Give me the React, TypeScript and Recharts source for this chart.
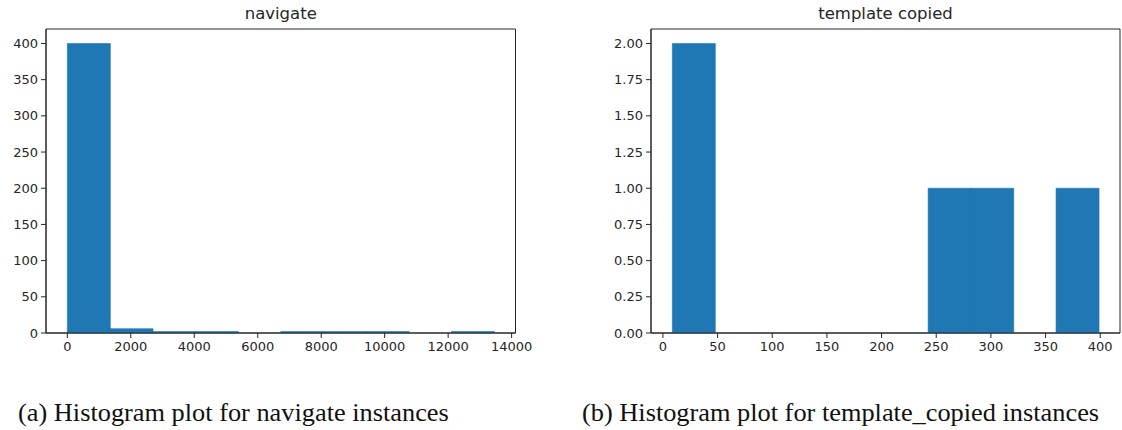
import React from 'react';
import { ComposedChart, Bar, XAxis, YAxis, ReferenceArea } from 'recharts';

// Histogram of navigate durations: 10 bins
const navEdges = [0, 1345, 2690, 4035, 5380, 6725, 8070, 9415, 10760, 12105, 13450];
const navCounts = [400, 6, 2, 2, 0, 2, 2, 2, 0, 2];
const navXTicks = [0, 2000, 4000, 6000, 8000, 10000, 12000, 14000];
const navYTicks = [0, 50, 100, 150, 200, 250, 300, 350, 400];

// Histogram of template copied values: 10 bins
const tplEdges = [8.6, 47.6, 86.6, 125.6, 164.6, 203.6, 242.6, 281.6, 320.6, 359.6, 398.6];
const tplCounts = [2, 0, 0, 0, 0, 0, 1, 1, 0, 1];
const tplXTicks = [0, 50, 100, 150, 200, 250, 300, 350, 400];
const tplYTicks = [0, 0.25, 0.5, 0.75, 1.0, 1.25, 1.5, 1.75, 2.0];

const BLUE = '#1f77b4';
const AXIS = '#262626';
const TICK_FONT = { fontFamily: 'DejaVu Sans', fontSize: 13, fill: '#262626' };

type Bin = { mid: number; x0: number; x1: number; count: number };

function toBins(edges: number[], counts: number[]): Bin[] {
  return counts.map((c, i) => ({
    mid: (edges[i] + edges[i + 1]) / 2,
    x0: edges[i],
    x1: edges[i + 1],
    count: c,
  }));
}

// x range padded by 5% of the data span on each side
function padded(edges: number[]): [number, number] {
  const lo = edges[0];
  const hi = edges[edges.length - 1];
  const m = (hi - lo) * 0.05;
  return [lo - m, hi + m];
}

type HistProps = {
  title: string;
  bins: Bin[];
  xDomain: [number, number];
  yDomain: [number, number];
  xTicks: number[];
  yTicks: number[];
  yFmt: (v: number) => string;
  width: number;
  height: number;
  yAxisWidth: number;
  marginRight: number;
};

function Histogram(p: HistProps) {
  const top = 29;
  const plotW = p.width - p.yAxisWidth - p.marginRight;
  return (
    <div style={{ position: 'relative', width: p.width, height: p.height }}>
      <div
        style={{
          position: 'absolute',
          left: p.yAxisWidth,
          width: plotW,
          top: 1,
          textAlign: 'center',
          fontFamily: 'DejaVu Sans',
          fontSize: 16.5,
          color: '#262626',
          lineHeight: '26px',
        }}
      >
        {p.title}
      </div>
      <ComposedChart
        width={p.width}
        height={p.height}
        data={p.bins}
        margin={{ top, right: p.marginRight, bottom: 12, left: 0 }}
        barCategoryGap={0}
        barGap={0}
      >
        <XAxis
          dataKey="mid"
          type="number"
          domain={p.xDomain}
          ticks={p.xTicks}
          allowDataOverflow
          interval={0}
          tick={TICK_FONT}
          tickSize={5}
          tickMargin={4}
          stroke={AXIS}
          height={25}
        />
        <YAxis
          type="number"
          domain={p.yDomain}
          ticks={p.yTicks}
          interval={0}
          allowDataOverflow
          tick={TICK_FONT}
          tickFormatter={p.yFmt}
          tickSize={5}
          tickMargin={3}
          stroke={AXIS}
          width={p.yAxisWidth}
        />
        <Bar
          dataKey="count"
          fill={BLUE}
          stroke={BLUE}
          strokeWidth={0.6}
          isAnimationActive={false}
        />
        {/* axes frame */}
        <ReferenceArea
          x1={p.xDomain[0]}
          x2={p.xDomain[1]}
          y1={p.yDomain[0]}
          y2={p.yDomain[1]}
          fill="none"
          fillOpacity={0}
          stroke={AXIS}
          strokeWidth={1}
          ifOverflow="visible"
        />
      </ComposedChart>
    </div>
  );
}

const captionStyle: React.CSSProperties = {
  position: 'absolute',
  top: 397.7,
  fontFamily: '"Liberation Serif", "Times New Roman", serif',
  fontSize: 24.5,
  color: '#111',
  whiteSpace: 'nowrap',
  lineHeight: '30px',
  transform: 'scaleX(1.075)',
  transformOrigin: 'left center',
};

export default function App() {
  return (
    <div
      style={{
        position: 'absolute',
        left: 0,
        top: 0,
        width: 1122,
        height: 430,
        background: '#fff',
        overflow: 'hidden',
      }}
    >
      <div style={{ position: 'absolute', left: 0, top: 0 }}>
        <Histogram
          title="navigate"
          bins={toBins(navEdges, navCounts)}
          xDomain={padded(navEdges)}
          yDomain={[0, 420]}
          xTicks={navXTicks}
          yTicks={navYTicks}
          yFmt={(v) => String(v)}
          width={560}
          height={370}
          yAxisWidth={46}
          marginRight={44.5}
        />
      </div>
      <div style={{ position: 'absolute', left: 570, top: 0 }}>
        <Histogram
          title="template copied"
          bins={toBins(tplEdges, tplCounts)}
          xDomain={padded(tplEdges)}
          yDomain={[0, 2.1]}
          xTicks={tplXTicks}
          yTicks={tplYTicks}
          yFmt={(v) => v.toFixed(2)}
          width={552}
          height={370}
          yAxisWidth={81}
          marginRight={2}
        />
      </div>
      <div style={{ ...captionStyle, left: 18 }}>(a) Histogram plot for navigate instances</div>
      <div style={{ ...captionStyle, left: 582 }}>(b) Histogram plot for template_copied instances</div>
    </div>
  );
}
